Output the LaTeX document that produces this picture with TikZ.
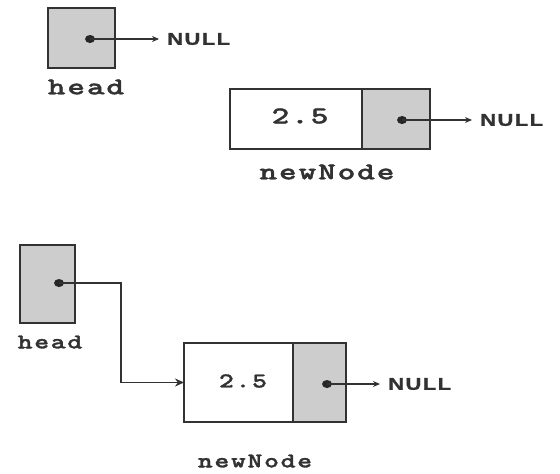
\documentclass[tikz,border=0pt]{standalone}
\usepackage{fontspec}
\usetikzlibrary{arrows.meta,shapes.geometric}
\newfontfamily\codebig{lmmonolt10-bold}[Extension=.otf, FakeStretch=1.4, LetterSpace=8, FakeBold=1.5]
\newfontfamily\codesmall{lmmonolt10-bold}[Extension=.otf, FakeStretch=1.35, LetterSpace=8, FakeBold=1.5]
\newfontfamily\nulltextfont{Liberation Sans Bold}[FakeStretch=1.3, LetterSpace=8, FakeBold=1]
\definecolor{cellgray}{RGB}{205,205,205}
\definecolor{ink}{RGB}{50,50,50}
\tikzset{
  cell/.style={draw=ink, line width=1.5pt, inner sep=0pt, outer sep=0pt},
  grayc/.style={cell, fill=cellgray},
  whitec/.style={cell, fill=white},
  dotc/.style={ellipse, fill=black!85, minimum width=10pt, minimum height=8pt, inner sep=0pt},
  nulltxt/.style={anchor=west, inner sep=0pt, text=ink, font=\nulltextfont\fontsize{17}{19}\selectfont},
  lblbig/.style={inner sep=0pt, text=ink, font=\codebig\fontsize{24}{26}\selectfont},
  lblsmall/.style={inner sep=0pt, text=ink, font=\codesmall\fontsize{21}{23}\selectfont},
  ptr/.style={draw=ink, line width=1.1pt, -{Stealth[length=7pt,width=6pt]}, shorten >=8pt},
  link/.style={draw=ink, line width=1.9pt, -{Stealth[length=9pt,width=8pt]}},
}
\begin{document}
\begin{tikzpicture}[x=1pt,y=-1pt]
\useasboundingbox (0,0) rectangle (560,474);
% ---------- top: separate ----------
\node[grayc, minimum width=67pt, minimum height=60pt] (head1) at (81.5,38) {};
\node[dotc] (dot1) at (90,39) {};
\node[nulltxt] (null1) at (167,39) {NULL};
\draw[ptr] (dot1.center) -- (null1.west);
\node[lblbig] (headlbl1) at (86,87) {head};

\node[whitec, minimum width=132pt, minimum height=60pt] (nn1val) at (296,119) {};
\node[lblbig] (val1) at (300,116) {2.5};
\node[grayc, minimum width=68pt, minimum height=60pt] (nn1ptr) at (396,119) {};
\node[dotc] (dot2) at (402,120) {};
\node[nulltxt] (null2) at (480,120) {NULL};
\draw[ptr] (dot2.center) -- (null2.west);
\node[lblbig] (nnlbl1) at (327,172) {newNode};

% ---------- bottom: linked ----------
\node[grayc, minimum width=55pt, minimum height=78pt] (head2) at (47.5,284) {};
\node[dotc] (dot3) at (59,283) {};
\node[lblsmall] (headlbl2) at (50,342) {head};

\node[whitec, minimum width=109pt, minimum height=79pt] (nn2val) at (238.5,382.5) {};
\node[lblsmall] (val2) at (243,381) {2.5};
\node[grayc, minimum width=53pt, minimum height=79pt] (nn2ptr) at (319.5,382.5) {};
\node[dotc] (dot4) at (327,384) {};
\node[nulltxt] (null3) at (388,384) {NULL};
\draw[ptr] (dot4.center) -- (null3.west);
\node[lblsmall] (nnlbl2) at (255,461) {newNode};

\coordinate (bend) at (121,283);
\draw[link] (dot3.center) -- (bend) |- (nn2val.west);
\end{tikzpicture}
\end{document}
